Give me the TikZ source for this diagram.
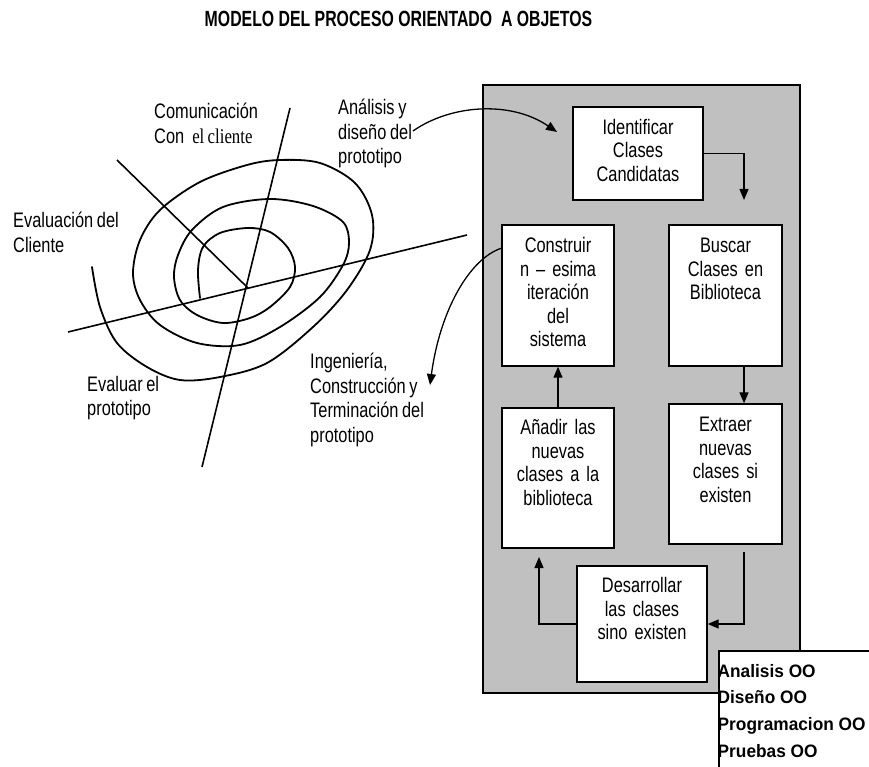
\documentclass[tikz,border=0pt]{standalone}
\usepackage{fontspec}
\setmainfont{Liberation Sans}[FakeStretch=0.78,WordSpace=0.8]
\newfontfamily\serifpart{Liberation Serif}[FakeStretch=0.8,WordSpace=0.8]
\newfontfamily\titlefont{Liberation Sans}[FakeStretch=0.72]
\newfontfamily\legendfont{Liberation Sans}[FakeStretch=0.96]
\usetikzlibrary{arrows.meta,calc}
\definecolor{panel}{HTML}{C0C0C0}
\begin{document}
\begin{tikzpicture}[x=1pt,y=-1pt,
  stepbox/.style={draw=black,fill=white,line width=1.4pt,inner sep=0pt},
  boxtext/.style={anchor=north,inner sep=0pt,align=center,
    font=\fontsize{21}{23.5}\selectfont,
    execute at begin node={\rule{0pt}{16pt}}},
  label/.style={anchor=north west,inner sep=0pt,align=left,
    font=\fontsize{21}{24.5}\selectfont,
    execute at begin node={\rule{0pt}{16pt}}},
  arr/.style={line width=1.3pt,-{Triangle[length=11pt,width=9pt]}},
  axis/.style={line width=1.6pt},
  spiral/.style={line width=1.8pt,line join=round,line cap=round}]
\useasboundingbox (0,0) rectangle (869,767);
\fill[white] (0,0) rectangle (869,767);

% title
\node[anchor=base,inner sep=0pt,font=\titlefont\bfseries\fontsize{22}{22}\selectfont]
  (title) at (398.5,27) {MODELO DEL PROCESO ORIENTADO\ \ A OBJETOS};

% spiral model: three axes and the spiral
\draw[axis] (290,108) -- (202,467);
\draw[axis] (117,160) -- (248,288);
\draw[axis] (68,332) -- (467,235);
\draw[spiral] plot[smooth,tension=0.55] coordinates {
  (200,298) (198,270) (203,247) (220,233) (248,228) (270,232) (288,248)
  (295,267) (290,287) (270,307) (250,318) (223,323) (197,315) (180,300)
  (174,277) (178,255) (192,230) (223,207) (270,199) (313,206) (343,222)
  (349,243) (343,265) (320,297) (280,327) (240,345) (197,343) (160,325)
  (140,300) (133,273) (140,240) (160,210) (200,182) (247,165) (280,160)
  (320,163) (355,183) (372,215) (370,250) (347,290) (313,327) (267,363)
  (220,377) (180,380) (147,367) (117,343) (100,307) (92,267)};

% quadrant labels
\node[label] (comm) at (154,103) {Comunicación\\Con\hspace{8pt}{\serifpart el cliente}};
\node[label] (anal) at (338,99) {Análisis y\\diseño del\\prototipo};
\node[label] (evcl) at (13,212) {Evaluación del\\Cliente};
\node[label] (evpr) at (87,376) {Evaluar el\\prototipo};
\node[label] (inge) at (310,353) {Ingeniería,\\Construcción y\\Terminación del\\prototipo};

% process panel
\fill[panel,draw=black,line width=1.4pt] (483,85) rectangle (800,693);

\node[stepbox,minimum width=130pt,minimum height=93pt]  (ident)   at (638,153.5) {};
\node[stepbox,minimum width=112pt,minimum height=141pt] (constr)  at (558,295.5) {};
\node[stepbox,minimum width=113pt,minimum height=141pt] (buscar)  at (725.5,295.5) {};
\node[stepbox,minimum width=112pt,minimum height=140pt] (anadir)  at (558,478) {};
\node[stepbox,minimum width=113pt,minimum height=140pt] (extraer) at (725.5,474) {};
\node[stepbox,minimum width=130pt,minimum height=116pt] (desarr)  at (642,624) {};

\node[boxtext,text width=130pt] at ($(ident.north)+(0,12)$) {Identificar\\Clases\\Candidatas};
\node[boxtext,text width=112pt] at ($(constr.north)+(0,12)$) {Construir\\n – esima\\iteración\\del\\sistema};
\node[boxtext,text width=113pt] at ($(buscar.north)+(0,12)$) {Buscar\\Clases en\\Biblioteca};
\node[boxtext,text width=112pt] at ($(anadir.north)+(0,11)$) {Añadir las\\nuevas\\clases a la\\biblioteca};
\node[boxtext,text width=113pt] at ($(extraer.north)+(0,12)$) {Extraer\\nuevas\\clases si\\existen};
\node[boxtext,text width=130pt] at ($(desarr.north)+(0,11)$) {Desarrollar\\las clases\\sino existen};

% connectors inside the panel
\coordinate (t1) at (744,200);
\coordinate (e1) at (744,552);
\coordinate (t2) at (539,557);
\draw[arr] (ident.east) -| (t1);
\draw[arr] (buscar.south -| t1) -- (extraer.north -| t1);
\draw[arr] (anadir.north) -- (constr.south);
\draw[arr] (e1) |- (desarr.east);
\draw[arr] (desarr.west) -| (t2);

% curved connectors between the spiral and the panel
\coordinate (a1) at (413,131);
\coordinate (a2) at (557,132);
\draw[arr] (a1) .. controls (450,105) and (510,100) .. (a2);
\coordinate (c1) at (502,248);
\coordinate (c2) at (430,385);
\draw[arr] (c1) .. controls (470,258) and (440,310) .. (c2);

% legend
\fill[white] (719,651) rectangle (880,780);
\draw[line width=1.4pt] (880,651) -- (719,651) -- (719,780);
\node[anchor=north west,inner sep=0pt,align=left,
  font=\legendfont\bfseries\fontsize{18}{26.7}\selectfont,
  execute at begin node={\rule{0pt}{14pt}}]
  (legend) at (717.5,664) {Analisis OO\\Diseño OO\\Programacion OO\\Pruebas OO};
\end{tikzpicture}
\end{document}
